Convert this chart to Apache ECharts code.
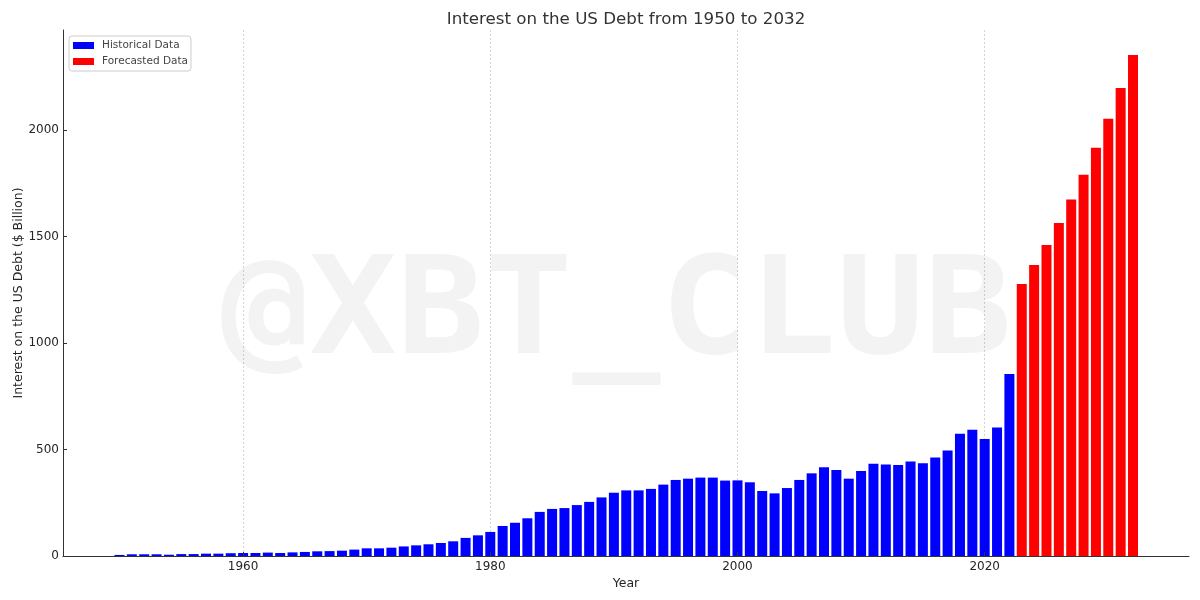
<!DOCTYPE html>
<html><head><meta charset="utf-8">
<style>html,body{margin:0;padding:0;background:#fff}#c{width:1200px;height:600px}</style>
<script src="https://cdn.jsdelivr.net/npm/echarts@6/dist/echarts.min.js"></script>
</head><body><div id="c"></div>
<script>
const histYears = [];
for (let y = 1950; y <= 2022; y++) histYears.push(y);
const histValues = [5,8,8,8,6,9,9,11,11,13,14,14,16,14,17,19,22,23,25,30,36,36,39,45,50,55,61,69,85,97,113,141,156,177,207,221,225,239,254,275,297,308,308,315,335,357,363,368,368,354,355,346,305,294,319,357,388,416,404,363,399,433,430,427,444,435,462,495,574,593,549,603,854];
const foreYears = [2023,2024,2025,2026,2027,2028,2029,2030,2031,2032];
const foreValues = [1277,1366,1460,1563,1673,1790,1916,2052,2197,2352];
const xTicks = [1960,1980,2000,2020];
const yTicks = [0,500,1000,1500,2000];
const font = 'DejaVu Sans';
const chart = echarts.init(document.getElementById('c'), null, {renderer:'canvas'});
chart.setOption({
  animation:false,
  backgroundColor:'#fff',
  textStyle:{fontFamily:font},
  title:{text:'Interest on the US Debt from 1950 to 2032',left:621,top:6,textAlign:'center',
    textStyle:{fontFamily:font,fontSize:16.7,fontWeight:'normal',color:'#333'}},
  legend:{left:69,top:36,orient:'vertical',itemWidth:21,itemHeight:7,itemGap:5,padding:[4,3,4,4],
    backgroundColor:'#fff',borderColor:'#ccc',borderWidth:1,borderRadius:3,
    textStyle:{fontFamily:font,fontSize:10.5,color:'#444',padding:[0,0,0,3]},icon:'rect',
    data:['Historical Data','Forecasted Data']},
  graphic:[{type:'text',left:221,top:250,z:-1,silent:true,scaleY:0.93,
    style:{text:'@XBT_CLUB',fontFamily:'DejaVu Sans Mono',fontWeight:'bold',fontSize:146,fill:'#f3f3f3'}}],
  grid:{left:63,right:11,top:30,bottom:44,outerBoundsMode:'none'},
  xAxis:{type:'value',min:1945.43,max:2036.53,z:3,
    name:'Year',nameLocation:'middle',nameGap:21,nameMoveOverlap:false,
    nameTextStyle:{fontFamily:font,fontSize:12.5,color:'#262626'},
    axisLine:{show:true,onZero:false,lineStyle:{color:'#333',width:1}},
    axisTick:{show:true,inside:true,length:4,lineStyle:{color:'#333'},customValues:xTicks},
    axisLabel:{fontFamily:font,fontSize:12,color:'#262626',margin:5,customValues:xTicks,formatter:v=>String(v)},
    splitLine:{show:true,lineStyle:{color:'rgba(0,0,0,0.17)',type:[2,2],width:1}}},
  yAxis:{type:'value',min:0,max:2469,
    name:'Interest on the US Debt ($ Billion)',nameLocation:'middle',nameGap:38,nameMoveOverlap:false,
    nameTextStyle:{fontFamily:font,fontSize:12.5,color:'#262626'},
    axisLine:{show:true,lineStyle:{color:'#333',width:1}},
    axisTick:{show:true,inside:true,length:4,lineStyle:{color:'#333'},customValues:yTicks},
    axisLabel:{fontFamily:font,fontSize:12,color:'#262626',margin:4,customValues:yTicks,formatter:v=>String(v)},
    splitLine:{show:false}},
  series:[
    {name:'Historical Data',type:'bar',barWidth:10,barGap:'-100%',itemStyle:{color:'#0000ff'},
     data:histYears.map((y,i)=>[y,histValues[i]])},
    {name:'Forecasted Data',type:'bar',barWidth:10,barGap:'-100%',itemStyle:{color:'#ff0000'},
     data:foreYears.map((y,i)=>[y,foreValues[i]])}
  ]
});
</script></body></html>
